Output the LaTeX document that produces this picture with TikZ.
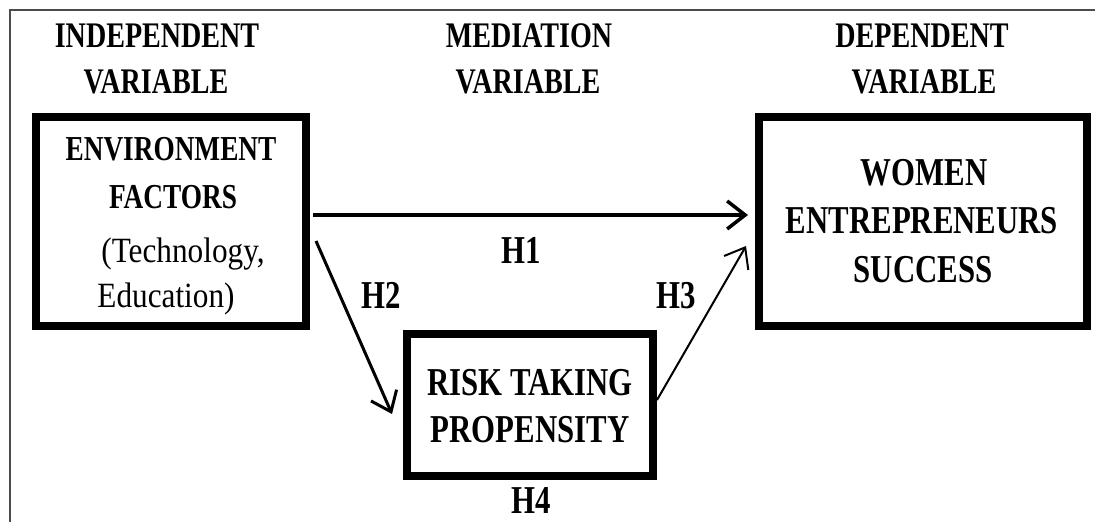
\documentclass[tikz,border=0pt]{standalone}
\usepackage{fontspec}
\setmainfont{Liberation Serif}[FakeStretch=0.78]
\newfontfamily\regfont{Liberation Serif}[FakeStretch=0.88]
\usetikzlibrary{arrows.meta,calc}
\begin{document}
\begin{tikzpicture}[x=1pt,y=-1pt,
  box/.style={draw, line width=8pt, inner sep=0pt},
  hd/.style={font=\fontsize{36}{40}\selectfont\bfseries, anchor=base, inner sep=0pt},
  bt/.style={font=\fontsize{35}{40}\selectfont\bfseries, anchor=base, inner sep=0pt},
  bg/.style={font=\fontsize{39.5}{44}\selectfont\bfseries, anchor=base, inner sep=0pt},
  rg/.style={font=\fontsize{35.5}{40}\selectfont\regfont, anchor=base, inner sep=0pt},
  arr/.style={-{Straight Barb[length=18pt,width=28pt]}},
]
\useasboundingbox (0,0) rectangle (1095,522);
\draw[black!70, line width=1.5pt] (10,522) -- (10,10) -- (1095,10);

% headers
\node[hd] (h1a) at (157,47) {INDEPENDENT};
\node[hd] (h1b) at (156,93) {VARIABLE};
\node[hd] (h2a) at (529,47) {MEDIATION};
\node[hd] (h2b) at (528,93) {VARIABLE};
\node[hd] (h3a) at (922,47) {DEPENDENT};
\node[hd] (h3b) at (924,93) {VARIABLE};

% boxes
\node[box, minimum width=270pt, minimum height=209pt] (env) at (171,221.5) {};
\node[box, minimum width=328pt, minimum height=209pt] (wes) at (923,221.5) {};
\node[box, minimum width=246pt, minimum height=142pt] (risk) at (530,405) {};

% box texts
\node[bt] (e1) at (171,160) {ENVIRONMENT};
\node[bt] (e2) at (173,208) {FACTORS};
\node[rg] (e3) at (183,262) {(Technology,};
\node[rg] (e4) at (166,307) {Education)};

\node[bg] (w1) at (924,185) {WOMEN};
\node[bg] (w2) at (922,233) {ENTREPRENEURS};
\node[bg] (w3) at (923,282) {SUCCESS};

\node[bg] (r1) at (530,395) {RISK TAKING};
\node[bg] (r2) at (530,442) {PROPENSITY};

% hypothesis labels
\node[bg] (H1) at (521,263) {H1};
\node[bg] (H2) at (381,308) {H2};
\node[bg] (H3) at (676,308) {H3};
\node[bg] (H4) at (531,513) {H4};

% connectors
\draw[arr, line width=3.5pt] ([shift={(3,-6.5)}]env.east) -- ([shift={(-7,-6.5)}]wes.west);
\draw[arr, line width=3pt] ([shift={(6,19.5)}]env.east) -- ([shift={(-11,9)}]risk.west);
\draw[arr, line width=2pt] ([shift={(0,-5)}]risk.east) -- ([shift={(-9,24.5)}]wes.west);
\end{tikzpicture}
\end{document}
